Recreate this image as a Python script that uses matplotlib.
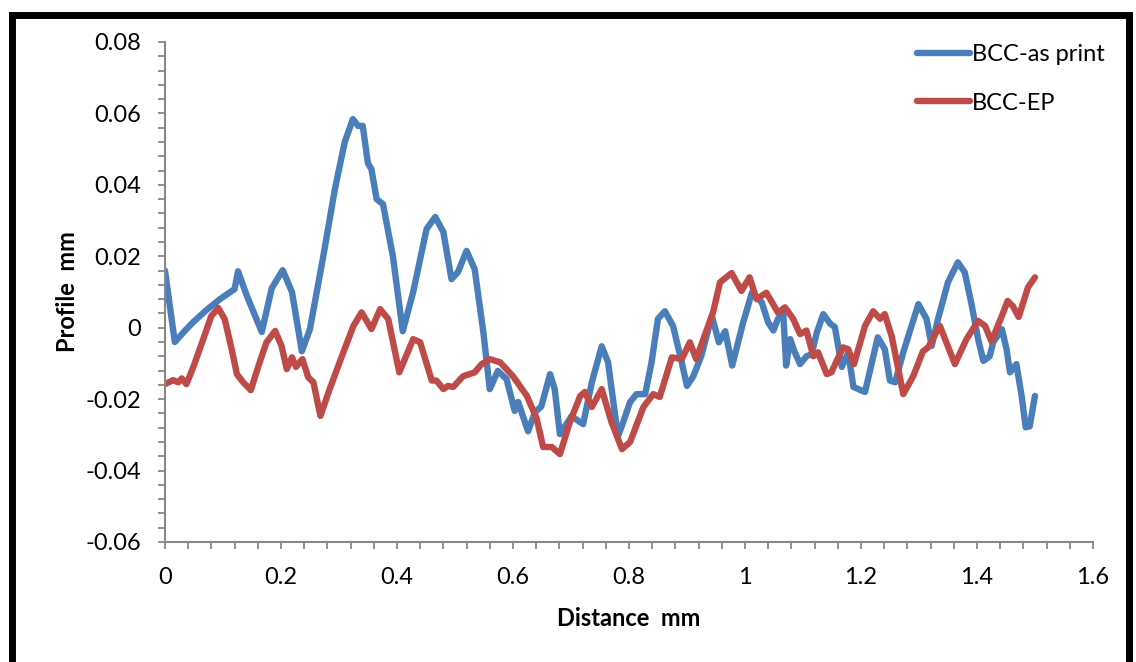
import matplotlib
matplotlib.use("Agg")
import matplotlib.pyplot as plt
from matplotlib.ticker import MultipleLocator
from matplotlib.patches import Rectangle

plt.rcParams["font.family"] = ["Lato", "DejaVu Sans"]

# Profile data (distance mm, profile mm)
asprint_x = [0, 0.017, 0.037, 0.049, 0.072, 0.095, 0.12, 0.126, 0.141, 0.167,
             0.184, 0.203, 0.219, 0.236, 0.25, 0.273, 0.293, 0.310, 0.324, 0.333,
             0.341, 0.350, 0.356, 0.365, 0.376, 0.393, 0.41, 0.428, 0.451, 0.466,
             0.48, 0.494, 0.505, 0.520, 0.534, 0.549, 0.560, 0.574, 0.589, 0.603,
             0.609, 0.626, 0.638, 0.649, 0.664, 0.672, 0.681, 0.701, 0.721, 0.736,
             0.753, 0.764, 0.781, 0.790, 0.802, 0.813, 0.828, 0.839, 0.850, 0.862,
             0.876, 0.891, 0.900, 0.911, 0.925, 0.943, 0.955, 0.966, 0.978, 0.997,
             1.012, 1.029, 1.040, 1.049, 1.057, 1.066, 1.071, 1.078, 1.086, 1.095,
             1.106, 1.115, 1.124, 1.135, 1.147, 1.155, 1.167, 1.178, 1.187, 1.207,
             1.229, 1.241, 1.25, 1.259, 1.273, 1.299, 1.313, 1.322, 1.333, 1.35,
             1.367, 1.379, 1.39, 1.402, 1.411, 1.422, 1.428, 1.443, 1.451, 1.457,
             1.468, 1.477, 1.484, 1.491, 1.5]
asprint_y = [0.016, -0.004, -0.0004, 0.0016, 0.005, 0.008, 0.0108, 0.0158, 0.009, -0.0012,
             0.011, 0.0161, 0.010, -0.0066, -0.0004, 0.020, 0.0388, 0.052, 0.0584, 0.0565,
             0.0565, 0.046, 0.0444, 0.036, 0.0346, 0.020, -0.001, 0.010, 0.0276, 0.031,
             0.0268, 0.0136, 0.0155, 0.0215, 0.0164, -0.0013, -0.0172, -0.0121, -0.0144, -0.0233,
             -0.0208, -0.029, -0.0237, -0.022, -0.013, -0.0172, -0.0298, -0.0248, -0.027, -0.0153,
             -0.0052, -0.0097, -0.0304, -0.0265, -0.0208, -0.0186, -0.0186, -0.0097, 0.0025, 0.0046,
             0.0005, -0.0097, -0.0163, -0.0136, -0.0078, 0.0033, -0.0041, -0.001, -0.0106, 0.0015,
             0.0098, 0.0071, 0.0015, -0.0008, 0.0025, 0.0042, -0.0106, -0.0032, -0.0069, -0.0102,
             -0.008, -0.0074, -0.0013, 0.0038, 0.0011, 0.0002, -0.011, -0.0069, -0.0166, -0.018,
             -0.0027, -0.006, -0.0148, -0.0153, -0.0069, 0.0066, 0.0025, -0.0051, 0.0025, 0.0127,
             0.0183, 0.0155, 0.0071, -0.0032, -0.0093, -0.008, -0.0041, -0.0004, -0.006, -0.0125,
             -0.0102, -0.0191, -0.0279, -0.0276, -0.0191]

ep_x = [0, 0.014, 0.023, 0.029, 0.037, 0.049, 0.066, 0.080, 0.092, 0.103,
        0.115, 0.124, 0.135, 0.148, 0.161, 0.175, 0.190, 0.201, 0.210, 0.219,
        0.226, 0.237, 0.247, 0.256, 0.268, 0.284, 0.305, 0.325, 0.339, 0.356,
        0.371, 0.385, 0.404, 0.428, 0.44, 0.46, 0.468, 0.48, 0.488, 0.497,
        0.514, 0.534, 0.546, 0.560, 0.578, 0.6, 0.624, 0.641, 0.652, 0.667,
        0.681, 0.698, 0.716, 0.724, 0.736, 0.753, 0.770, 0.788, 0.802, 0.825,
        0.842, 0.853, 0.874, 0.891, 0.905, 0.916, 0.945, 0.957, 0.977, 0.994,
        1.008, 1.02, 1.037, 1.057, 1.069, 1.083, 1.095, 1.106, 1.118, 1.126,
        1.141, 1.149, 1.169, 1.178, 1.188, 1.207, 1.221, 1.233, 1.241, 1.253,
        1.273, 1.29, 1.307, 1.316, 1.336, 1.362, 1.382, 1.402, 1.414, 1.425,
        1.443, 1.453, 1.462, 1.472, 1.488, 1.5]
ep_y = [-0.0158, -0.0147, -0.0153, -0.0142, -0.0158, -0.011, -0.0032, 0.0033, 0.0055, 0.0024,
        -0.006, -0.013, -0.0153, -0.0175, -0.0108, -0.0041, -0.0009, -0.0051, -0.0116, -0.0083,
        -0.011, -0.0088, -0.0139, -0.0153, -0.0247, -0.0172, -0.008, 0.0005, 0.0043, -0.0004,
        0.0052, 0.0024, -0.0125, -0.0032, -0.0041, -0.0148, -0.0148, -0.0172, -0.0163, -0.0166,
        -0.0136, -0.0125, -0.0102, -0.0088, -0.0097, -0.0136, -0.0191, -0.0255, -0.0334, -0.0334,
        -0.0354, -0.0265, -0.0191, -0.018, -0.0222, -0.0172, -0.0265, -0.034, -0.032, -0.0222,
        -0.0186, -0.0194, -0.0083, -0.0088, -0.0041, -0.0088, 0.0043, 0.0127, 0.0153, 0.0103,
        0.0141, 0.008, 0.0098, 0.0042, 0.0057, 0.0025, -0.0018, -0.0008, -0.008, -0.0069,
        -0.013, -0.0125, -0.0055, -0.006, -0.0102, 0.0005, 0.0046, 0.0025, 0.0038, -0.0024,
        -0.0186, -0.0136, -0.0066, -0.0055, 0.0005, -0.0102, -0.0032, 0.0019, 0.0005, -0.0038,
        0.0033, 0.0075, 0.006, 0.003, 0.0113, 0.0141]

fig = plt.figure(figsize=(11.36, 6.62), dpi=100)
ax = fig.add_axes([0.1452, 0.1813, 0.8169, 0.7553])

# thick black frame round the whole chart
fig.patches.append(Rectangle((0.0105, -0.05), 0.983, 1.027, transform=fig.transFigure,
                             fill=False, edgecolor="black", linewidth=5))

ax.plot(asprint_x, asprint_y, color="#4A7EBB", linewidth=4.6,
        solid_joinstyle="round", solid_capstyle="round", label="BCC-as print")
ax.plot(ep_x, ep_y, color="#BE4B48", linewidth=4.6,
        solid_joinstyle="round", solid_capstyle="round", label="BCC-EP")

ax.set_xlim(0, 1.6)
ax.set_ylim(-0.06, 0.08)
ax.xaxis.set_minor_locator(MultipleLocator(0.04))
ax.yaxis.set_minor_locator(MultipleLocator(0.004))
ax.set_xticks([0, 0.2, 0.4, 0.6, 0.8, 1, 1.2, 1.4, 1.6])
ax.set_xticklabels(["0", "0.2", "0.4", "0.6", "0.8", "1", "1.2", "1.4", "1.6"])
ax.set_yticks([-0.06, -0.04, -0.02, 0, 0.02, 0.04, 0.06, 0.08])
ax.set_yticklabels(["-0.06", "-0.04", "-0.02", "0", "0.02", "0.04", "0.06", "0.08"])

for s in ["top", "right"]:
    ax.spines[s].set_visible(False)
for s in ["left", "bottom"]:
    ax.spines[s].set_color("#888888")
    ax.spines[s].set_linewidth(1.5)
ax.tick_params(which="both", direction="out", length=5, width=1.3, color="#888888",
               labelsize=17, labelcolor="black")
ax.tick_params(axis="x", which="major", pad=13)
ax.tick_params(axis="y", which="major", pad=12)

ax.set_xlabel("Distance  mm", fontsize=17, fontweight="bold", labelpad=14)
ax.set_ylabel("Profile  mm", fontsize=17, fontweight="bold", labelpad=5)

ax.legend(loc="upper left", bbox_to_anchor=(0.8, 1.014), frameon=False, fontsize=17,
          handlelength=2.25, handletextpad=0.1, labelspacing=1.15, borderaxespad=0)

fig.savefig("out.png", dpi=100)
